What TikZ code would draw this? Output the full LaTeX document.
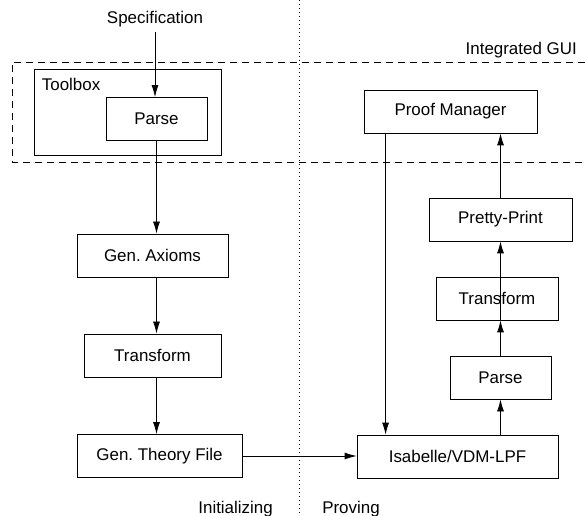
\documentclass[tikz,border=0pt]{standalone}
\usepackage{fontspec}
\setmainfont{Liberation Sans}
\frenchspacing
\usetikzlibrary{arrows.meta}
\tikzset{
  stage/.style={draw, line width=0.6pt, minimum height=32.25pt, inner sep=0pt},
  flow/.style={line width=0.6pt, -{Latex[length=9pt,width=5.25pt]}},
  gui/.style={line width=0.6pt, dash pattern=on 5.25pt off 3.75pt},
  phase/.style={line width=0.6pt, dash pattern=on 0.75pt off 2.25pt}
}

\begin{document}
\begin{tikzpicture}[x=0.75pt, y=-0.75pt, font=\fontsize{12.7}{15}\selectfont]
      \useasboundingbox (0,0) rectangle (585,516);

      \coordinate (phasetop) at (299,0);
      \coordinate (phasebot) at (299,516);
      \draw[phase] (phasetop) -- (phasebot);
      \draw[gui] (585,62) -- (12,62) -- (12,162) -- (585,162);
      \node[anchor=base east, inner sep=0pt] (guilabel) at (577,55) {Integrated GUI};
      \node[anchor=base east, inner sep=0pt] (initlabel) at (273,513) {Initializing};
      \node[anchor=base west, inner sep=0pt] (provelabel) at (322,513) {Proving};

      \node (spec) at (155,19) {Specification};
      \node[stage, minimum width=140.25pt, minimum height=64.5pt] (toolbox) at (127.5,112) {};
      \node[anchor=base west, inner sep=0pt] (toolboxlabel) at ([shift={(8,22)}]toolbox.north west) {Toolbox};
      \node[stage, minimum width=75.75pt] (parseA) at (156.5,119) {Parse};
      \node[stage, minimum width=113.25pt] (axioms) at (152.5,255.5) {Gen. Axioms};
      \node[stage, minimum width=102.75pt] (transformA) at (152.5,355.5) {Transform};
      \node[stage, minimum width=123.75pt] (theory) at (159.5,456) {Gen. Theory File};

      \node[stage, minimum width=150.75pt] (isabelle) at (457.5,456.5) {Isabelle/VDM-LPF};
      \node[stage, minimum width=75.75pt] (parseB) at (500.5,377.5) {Parse};
      \node[stage, minimum width=91.5pt] (transformB) at (497,298.5) {Transform};
      \node[stage, minimum width=107.25pt] (pretty) at (500.5,219.5) {Pretty-Print};
      \node[stage, minimum width=129.75pt] (manager) at (450.5,111.5) {Proof Manager};

      \draw[flow] (spec.south) -- (spec.south |- parseA.north);
      \draw[flow] (parseA.south) -- (parseA.south |- axioms.north);
      \draw[flow] (axioms.south -| parseA.south) -- (transformA.north -| parseA.south);
      \draw[flow] (transformA.south -| parseA.south) -- (theory.north -| parseA.south);
      \draw[flow] (theory.east) -- (theory.east -| isabelle.west);
      \draw[flow] ([xshift=16.5pt]manager.south west) -- ([xshift=16.5pt]manager.south west |- isabelle.north);
      \draw[flow] (isabelle.north -| parseB.south) -- (parseB.south);
      \draw[flow] (parseB.north) -- (parseB.north |- transformB.south);
      \draw[flow] (transformB.south -| parseB.north) -- (pretty.south);
      \draw[flow] (pretty.north) -- (pretty.north |- manager.south);
    \end{tikzpicture}
\end{document}
